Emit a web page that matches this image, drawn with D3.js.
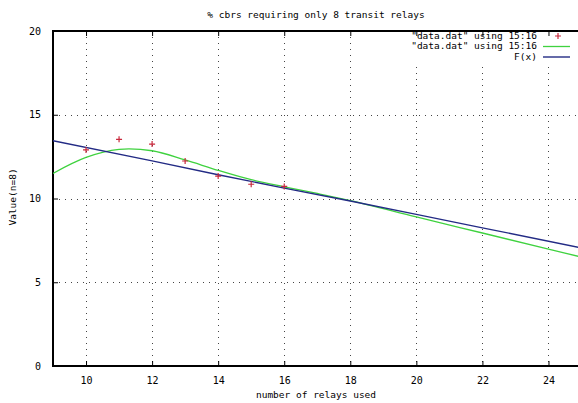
<!DOCTYPE html>
<html><head><meta charset="utf-8">
<script src="https://cdn.jsdelivr.net/npm/d3@7"></script>
<style>
html,body{margin:0;padding:0;background:#fff;overflow:hidden}
text{font-family:"DejaVu Sans Mono",monospace;font-size:9.5px;fill:#000}
</style></head><body>
<script>
// Data
const title = "% cbrs requiring only 8 transit relays";
const xLabel = "number of relays used";
const yLabel = "Value(n=8)";
const legendLabels = ['"data.dat" using 15:16', '"data.dat" using 15:16', 'F(x)'];
const xTicks = [10, 12, 14, 16, 18, 20, 22, 24];
const yTicks = [0, 5, 10, 15, 20];
// points
const pointX = [10, 11, 12, 13, 14, 15, 16];
const pointY = [12.9, 13.53, 13.25, 12.24, 11.34, 10.85, 10.72];
// smoothed curve (green)
const smoothX = [9, 10, 11, 11.3, 12, 13, 14, 15, 16, 17, 18, 20, 22, 24, 25];
const smoothY = [11.5, 12.45, 12.93, 12.96, 12.85, 12.3, 11.68, 11.12, 10.7, 10.3, 9.88, 8.9, 7.94, 6.98, 6.5];
// fitted function F(x) (blue)
const fitX = [9, 12, 14, 16, 18, 20, 22, 25];
const fitY = [13.45, 12.25, 11.42, 10.62, 9.85, 9.05, 8.25, 7.05];

const W = 578, H = 403;
const pLeft = 53, pRight = 581.5, pTop = 31, pBottom = 366;
const svg = d3.select("body").append("svg").attr("width", W).attr("height", H);
const x = d3.scaleLinear().domain([9, 25]).range([pLeft, pRight]);
const y = d3.scaleLinear().domain([0, 20]).range([pBottom, pTop]);

svg.append("defs").append("clipPath").attr("id", "clip")
  .append("rect").attr("x", pLeft).attr("y", pTop).attr("width", pRight - pLeft).attr("height", pBottom - pTop);

// grid
const g = svg.append("g");
g.selectAll(".vg").data(xTicks).join("line")
  .attr("x1", d => Math.round(x(d)) + 0.5).attr("x2", d => Math.round(x(d)) + 0.5)
  .attr("y1", pTop).attr("y2", pBottom)
  .attr("stroke", "#444").attr("stroke-width", 1).attr("stroke-dasharray", "1,5");
g.selectAll(".hg").data(yTicks.filter(d => d > 0 && d < 20)).join("line")
  .attr("y1", d => Math.round(y(d)) + 0.5).attr("y2", d => Math.round(y(d)) + 0.5)
  .attr("x1", pLeft).attr("x2", pRight)
  .attr("stroke", "#444").attr("stroke-width", 1).attr("stroke-dasharray", "1,5");

// key area hides the grid behind it
svg.append("rect").attr("x", 405).attr("y", pTop).attr("width", 180).attr("height", 32).attr("fill", "#fff");

// axes with ticks (gnuplot-like, mirrored, inward)
const xb = d3.axisBottom(x).tickValues(xTicks).tickSize(-5).tickPadding(11).tickFormat(d3.format("d"));
const xt = d3.axisTop(x).tickValues(xTicks).tickSize(-5).tickFormat("");
const yl = d3.axisLeft(y).tickValues(yTicks).tickSize(-5).tickPadding(12).tickFormat(d3.format("d"));
const styleAxis = sel => { sel.select(".domain").remove(); sel.selectAll("line").attr("stroke", "#000"); sel.selectAll("text").attr("fill", "#333").style("font-size", "10px"); };
svg.append("g").attr("transform", `translate(0,${pBottom})`).call(xb).call(styleAxis);
svg.append("g").attr("transform", `translate(0,${pTop})`).call(xt).call(styleAxis);
svg.append("g").attr("transform", `translate(${pLeft},0)`).call(yl).call(styleAxis);

// border
svg.append("rect").attr("x", pLeft).attr("y", pTop).attr("width", pRight - pLeft).attr("height", pBottom - pTop)
  .attr("fill", "none").attr("stroke", "#000").attr("stroke-width", 2);

const plot = svg.append("g").attr("clip-path", "url(#clip)");
const smooth = smoothX.map((v, i) => [v, smoothY[i]]);
const fit = fitX.map((v, i) => [v, fitY[i]]);
const line = d3.line().x(d => x(d[0])).y(d => y(d[1]));
plot.append("path").datum(smooth).attr("d", line.curve(d3.curveMonotoneX))
  .attr("fill", "none").attr("stroke", "#3fd23f").attr("stroke-width", 1.3);
plot.append("path").datum(fit).attr("d", d3.line().x(d => x(d[0])).y(d => y(d[1])))
  .attr("fill", "none").attr("stroke", "#232b85").attr("stroke-width", 1.4);

const pts = pointX.map((v, i) => [v, pointY[i]]);
plot.selectAll(".pt").data(pts).join("path")
  .attr("d", d => `M${x(d[0]) - 3},${y(d[1])}h6M${x(d[0])},${y(d[1]) - 3}v6`)
  .attr("stroke", "#c8283c").attr("stroke-width", 1.2).attr("fill", "none");

// title & labels
svg.append("text").attr("x", 316).attr("y", 15).attr("text-anchor", "middle").attr("dominant-baseline", "middle").text(title);
svg.append("text").attr("x", 316).attr("y", 395).attr("text-anchor", "middle").attr("dominant-baseline", "middle").text(xLabel);
svg.append("text").attr("transform", "translate(13,197) rotate(-90)").attr("text-anchor", "middle").attr("dominant-baseline", "middle").text(yLabel);

// legend
const legY = [36, 46.5, 57];
const leg = svg.append("g");
legendLabels.forEach((lab, i) => {
  leg.append("text").attr("x", 537).attr("y", legY[i]).attr("text-anchor", "end").attr("dominant-baseline", "middle").text(lab);
});
leg.append("path").attr("d", `M${555},${legY[0]}h6M${558},${legY[0] - 3}v6`).attr("stroke", "#c8283c").attr("stroke-width", 1.2);
leg.append("line").attr("x1", 543).attr("x2", 570).attr("y1", legY[1]).attr("y2", legY[1]).attr("stroke", "#3fd23f").attr("stroke-width", 1.3);
leg.append("line").attr("x1", 543).attr("x2", 570).attr("y1", legY[2]).attr("y2", legY[2]).attr("stroke", "#232b85").attr("stroke-width", 1.4);
</script>
</body></html>
